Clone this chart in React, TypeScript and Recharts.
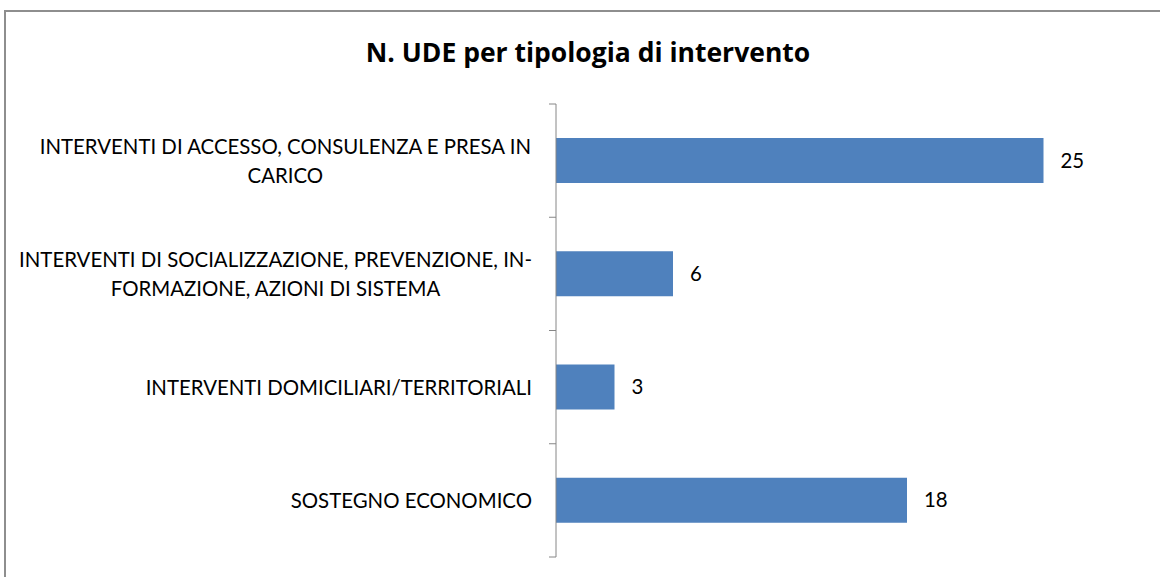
import React from 'react'
import { BarChart, Bar, XAxis, YAxis, LabelList } from 'recharts'

const categories = [
  'INTERVENTI DI ACCESSO, CONSULENZA E PRESA IN\nCARICO',
  'INTERVENTI DI SOCIALIZZAZIONE, PREVENZIONE, IN-\nFORMAZIONE, AZIONI DI SISTEMA',
  'INTERVENTI DOMICILIARI/TERRITORIALI',
  'SOSTEGNO ECONOMICO',
]
const values = [25, 6, 3, 18]
const title = 'N. UDE per tipologia di intervento'

const FONT = 'Lato, "Open Sans", sans-serif'
const LABEL_SIZE = 20.4
const AXIS_COLOR = '#868686'
const BAR_COLOR = '#4F81BD'
const TICK_MARGIN = 24
const TICK_LEN = 7

const data = categories.map((name, i) => ({ name, value: values[i] }))

let ctx: CanvasRenderingContext2D | null = null
function measure(text: string): number {
  if (!ctx) ctx = document.createElement('canvas').getContext('2d')
  if (!ctx) return text.length * LABEL_SIZE * 0.6
  ctx.font = `${LABEL_SIZE}px Lato`
  return ctx.measureText(text).width
}

// multi-line labels: block is right aligned, lines centred inside it.
// also draws the tick marks on the category boundaries (Excel style)
function CategoryTick(props: any) {
  const { x, y, payload, index, visibleTicksCount } = props
  const lines = String(payload.value).split('\n')
  const blockW = Math.max(...lines.map(measure))
  const cx = x - blockW / 2
  const lineH = 29
  const y0 = y - ((lines.length - 1) * lineH) / 2
  const half = payload.offset || 0
  const axisX = x + TICK_MARGIN
  const isLast = index === (visibleTicksCount ?? categories.length) - 1
  return (
    <g>
      <line x1={axisX - TICK_LEN} x2={axisX} y1={y - half} y2={y - half} stroke={AXIS_COLOR} />
      {isLast && (
        <line x1={axisX - TICK_LEN} x2={axisX} y1={y + half} y2={y + half} stroke={AXIS_COLOR} />
      )}
      <text
        x={cx}
        y={y0}
        textAnchor="middle"
        dominantBaseline="central"
        fontFamily={FONT}
        fontSize={LABEL_SIZE}
        fill="#000"
      >
        {lines.map((l, i) => (
          <tspan key={i} x={cx} y={y0 + i * lineH}>
            {l}
          </tspan>
        ))}
      </text>
    </g>
  )
}

export default function App() {
  return (
    <div
      style={{
        position: 'absolute',
        left: 0,
        top: 0,
        width: 1160,
        height: 577,
        overflow: 'hidden',
        background: '#fff',
      }}
    >
      <div
        style={{
          position: 'absolute',
          left: 4,
          top: 10,
          width: 1200,
          height: 620,
          border: '2px solid #8e8e8e',
        }}
      />
      <div
        style={{
          position: 'absolute',
          left: 588,
          top: 35,
          transform: 'translateX(-50%)',
          whiteSpace: 'nowrap',
          fontFamily: '"Open Sans", sans-serif',
          fontWeight: 700,
          fontSize: 26.5,
          lineHeight: '34px',
          color: '#000',
        }}
      >
        {title}
      </div>
      <div style={{ position: 'absolute', left: 0, top: 0 }}>
        <BarChart
          width={1160}
          height={577}
          data={data}
          layout="vertical"
          margin={{ top: 104, right: 19, bottom: 20, left: 0 }}
        >
          <XAxis type="number" domain={[0, 30]} hide />
          <YAxis
            type="category"
            dataKey="name"
            width={556}
            interval={0}
            tickSize={0}
            tickMargin={TICK_MARGIN}
            tickLine={false}
            axisLine={{ stroke: AXIS_COLOR }}
            tick={<CategoryTick />}
          />
          <Bar dataKey="value" fill={BAR_COLOR} barSize={45} isAnimationActive={false}>
            <LabelList
              dataKey="value"
              position="right"
              offset={17}
              fill="#000"
              fontSize={LABEL_SIZE}
              fontFamily={FONT}
            />
          </Bar>
        </BarChart>
      </div>
    </div>
  )
}
